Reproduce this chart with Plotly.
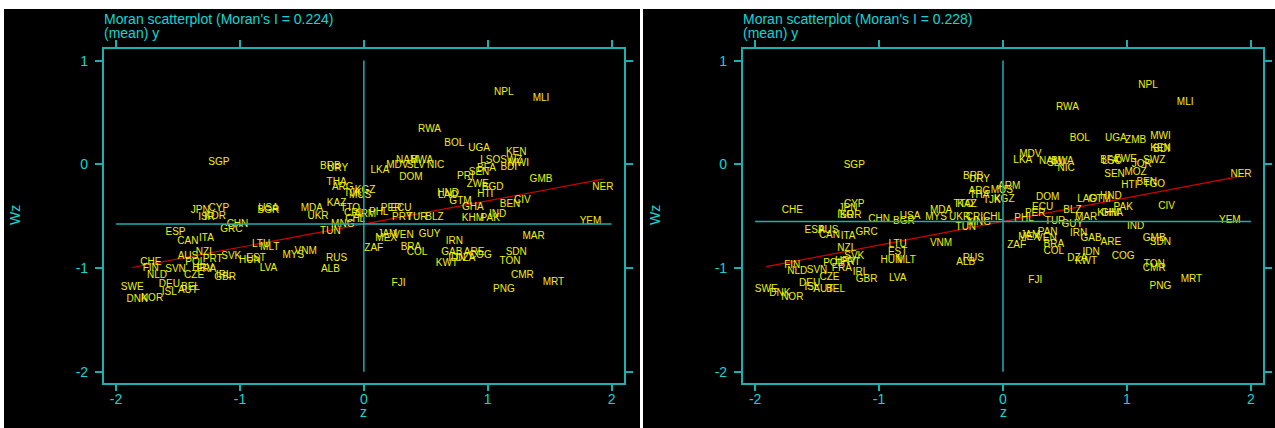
import plotly.graph_objects as go

# ---------------- data ----------------
left_codes = ["SGP","BRB","URY","THA","ARG","KGZ","MUS","TJK","JPN","CYP","ISR","KOR","USA","BGR",
              "MDA","UKR","KAZ","TTO","CRI","ARM","CHL","PHL","PER","ECU","PRY","TUR","BLZ","MNG","TUN",
              "NPL","MLI","RWA","BOL","UGA","KEN","LSO","SWZ","MWI","BFA","BDI","NAM","BWA","MDV","SLV",
              "NIC","LKA","DOM","PRI","SEN","ZWE","BGD","GMB","NER","HND","LAO","HTI","GTM","CIV","BEN",
              "GHA","IND","KHM","PAK","YEM",
              "MAR","JAM","MEX","VEN","GUY","IRN","ZAF","BRA","COL","GAB","ARE","COG","IDN","DZA","KWT",
              "SDN","TON","CMR","MRT","FJI","PNG",
              "ESP","CAN","ITA","CHN","GRC","LTU","MLT","VNM","MYS","RUS","ALB","AUS","NZL","PRT","POL",
              "FRA","HRV","IRL","GBR","SVK","EST","HUN","LVA","CHE","FIN","SVN","NLD","CZE","DEU","BEL",
              "ISL","AUT","SWE","DNK","NOR"]
left_z = [-1.17,-0.27,-0.21,-0.22,-0.17,0.01,-0.03,-0.09,-1.32,-1.17,-1.27,-1.20,-0.77,-0.77,
          -0.42,-0.37,-0.22,-0.11,-0.09,0.01,-0.07,0.12,0.22,0.30,0.31,0.43,0.57,-0.17,-0.27,
          1.13,1.43,0.53,0.73,0.93,1.23,1.02,1.19,1.25,0.99,1.17,0.35,0.47,0.27,0.42,
          0.58,0.13,0.38,0.82,0.93,0.92,1.04,1.43,1.93,0.68,0.68,0.98,0.78,1.28,1.18,
          0.88,1.08,0.88,1.02,1.83,
          1.37,0.19,0.18,0.32,0.53,0.73,0.08,0.38,0.43,0.71,0.89,0.94,0.75,0.82,0.67,
          1.23,1.18,1.28,1.53,0.28,1.13,
          -1.52,-1.42,-1.27,-1.02,-1.07,-0.83,-0.76,-0.47,-0.57,-0.22,-0.27,-1.42,-1.28,-1.22,-1.36,
          -1.27,-1.30,-1.13,-1.12,-1.07,-0.87,-0.92,-0.77,-1.72,-1.72,-1.52,-1.67,-1.37,-1.57,-1.40,
          -1.57,-1.42,-1.87,-1.83,-1.71]
left_wz = [0.02,-0.02,-0.04,-0.18,-0.22,-0.25,-0.30,-0.28,-0.45,-0.43,-0.51,-0.50,-0.43,-0.45,
           -0.43,-0.50,-0.38,-0.43,-0.47,-0.48,-0.53,-0.46,-0.43,-0.43,-0.51,-0.51,-0.51,-0.58,-0.65,
           0.69,0.63,0.34,0.20,0.15,0.11,0.04,0.04,0.01,-0.04,-0.03,0.04,0.04,-0.01,-0.01,
           -0.01,-0.06,-0.13,-0.12,-0.08,-0.19,-0.22,-0.15,-0.22,-0.28,-0.30,-0.29,-0.36,-0.35,-0.39,
           -0.42,-0.48,-0.52,-0.52,-0.55,
           -0.70,-0.68,-0.72,-0.69,-0.68,-0.74,-0.81,-0.80,-0.85,-0.85,-0.85,-0.88,-0.91,-0.91,-0.96,
           -0.85,-0.94,-1.07,-1.14,-1.15,-1.21,
           -0.66,-0.74,-0.72,-0.58,-0.63,-0.77,-0.80,-0.84,-0.88,-0.91,-1.01,-0.89,-0.85,-0.92,-0.95,
           -1.01,-1.00,-1.07,-1.09,-0.89,-0.91,-0.93,-1.00,-0.95,-1.00,-1.01,-1.07,-1.07,-1.16,-1.19,
           -1.24,-1.22,-1.19,-1.30,-1.29]

right_codes = ["SGP","BRB","URY","ARG","THA","MUS","ARM","TJK","KGZ","KAZ","TTO","CHE","CYP","JPN",
               "ISR","KOR","CHN","USA","BGR","MYS","MDA","UKR","CRI","CHL","MNG","TUN","ESP","AUS",
               "CAN","ITA","GRC",
               "NPL","MLI","RWA","BOL","UGA","ZMB","MWI","KEN","BDI","MDV","LKA","NAM","BWA","SLV",
               "NIC","BFA","LSO","ZWE","SWZ","JOR","SEN","MOZ","HTI","BEN","TGO","NER","DOM","LAO",
               "GTM","HND","PAK","KHM","GHA","CIV","ECU","PER","BLZ","MAR","PHL","TUR","GUY","YEM",
               "IND","PAN","JAM","MEX","VEN","IRN","GAB","ARE","ZAF","BRA","COL","IDN","DZA","KWT",
               "COG","GMB","SDN","TON","CMR","MRT","FJI","PNG",
               "NZL","LTU","EST","VNM","HUN","MLT","RUS","ALB","SVK","POL","PRT","HRV","FRA","FIN",
               "NLD","SVN","IRL","CZE","GBR","LVA","DEU","ISL","AUT","BEL","SWE","DNK","NOR"]
right_z = [-1.20,-0.24,-0.19,-0.19,-0.19,-0.01,0.05,-0.09,0.01,-0.29,-0.32,-1.70,-1.20,-1.25,
           -1.27,-1.23,-1.00,-0.75,-0.80,-0.54,-0.50,-0.35,-0.23,-0.08,-0.19,-0.30,-1.52,-1.41,
           -1.40,-1.25,-1.10,
           1.17,1.47,0.52,0.62,0.91,1.07,1.27,1.27,1.28,0.22,0.16,0.38,0.48,0.43,
           0.51,0.86,0.88,0.99,1.22,1.12,0.90,1.07,1.02,1.16,1.22,1.92,0.36,0.68,
           0.78,0.87,0.97,0.85,0.88,1.32,0.32,0.26,0.56,0.67,0.17,0.42,0.56,1.83,
           1.07,0.36,0.22,0.21,0.35,0.61,0.71,0.87,0.11,0.41,0.41,0.71,0.60,0.67,
           0.97,1.22,1.27,1.22,1.22,1.52,0.26,1.27,
           -1.26,-0.85,-0.85,-0.50,-0.90,-0.78,-0.24,-0.30,-1.20,-1.37,-1.23,-1.27,-1.30,-1.70,
           -1.66,-1.50,-1.15,-1.40,-1.10,-0.85,-1.56,-1.54,-1.45,-1.35,-1.91,-1.80,-1.70]
right_wz = [-0.01,-0.12,-0.15,-0.26,-0.30,-0.25,-0.21,-0.35,-0.34,-0.39,-0.39,-0.45,-0.39,-0.43,
            -0.49,-0.49,-0.53,-0.50,-0.55,-0.51,-0.45,-0.51,-0.51,-0.51,-0.56,-0.61,-0.64,-0.64,
            -0.69,-0.70,-0.66,
            0.76,0.60,0.55,0.25,0.25,0.23,0.27,0.15,0.14,0.09,0.04,0.03,0.03,0.01,
            -0.04,0.04,0.03,0.05,0.04,0.00,-0.10,-0.08,-0.20,-0.18,-0.19,-0.10,-0.32,-0.34,
            -0.34,-0.31,-0.42,-0.47,-0.47,-0.41,-0.42,-0.47,-0.45,-0.51,-0.52,-0.55,-0.58,-0.54,
            -0.60,-0.66,-0.69,-0.71,-0.72,-0.67,-0.72,-0.75,-0.78,-0.77,-0.84,-0.85,-0.91,-0.94,
            -0.89,-0.72,-0.75,-0.97,-1.00,-1.11,-1.12,-1.18,
            -0.81,-0.77,-0.85,-0.76,-0.93,-0.93,-0.91,-0.95,-0.89,-0.96,-0.95,-0.94,-1.00,-0.98,
            -1.03,-1.02,-1.04,-1.09,-1.11,-1.10,-1.15,-1.19,-1.21,-1.21,-1.21,-1.25,-1.28]

moran_I = [0.224, 0.228]
mean_wz = [-0.576, -0.551]
titles = ["Moran scatterplot (Moran's I = 0.224)", "Moran scatterplot (Moran's I = 0.228)"]
subtitle = "(mean) y"
x_ticks = [-2, -1, 0, 1, 2]
x_ticktext = ["-2", "-1", "0", "1", "2"]
y_ticks = [-2, -1, 0, 1]
y_ticktext = ["-2", "-1", "0", "1"]

# ---------------- styling ----------------
W, H = 1275, 428
CYAN_TXT = "#12d6d6"
CYAN_LINE = "#1ab0b0"
YELLOW = "#f0f00a"
RED = "#d40000"
FONT = "Liberation Sans, Arial, Helvetica, sans-serif"

def px2x(p):
    return p / W

def py2y(p):
    return 1 - p / H

panels = [
    dict(codes=left_codes, z=left_z, wz=left_wz, box=(103.7, 624.0), panel=(4, 640), zero=363.3, wz_x=15),
    dict(codes=right_codes, z=right_z, wz=right_wz, box=(742.7, 1263.3), panel=(643, 1275), zero=1003.3, wz_x=655),
]
box_top, box_bot = 49.0, 382.7

fig = go.Figure()
shapes = []
annotations = []

for i, p in enumerate(panels):
    xa = "x" if i == 0 else "x2"
    ya = "y" if i == 0 else "y2"
    shapes.append(dict(type="rect", xref="paper", yref="paper", layer="below",
                       x0=px2x(p["panel"][0]), x1=px2x(p["panel"][1]),
                       y0=0, y1=py2y(9), fillcolor="black", line=dict(width=0)))
    shapes.append(dict(type="line", xref=xa, yref=ya, x0=0, x1=0, y0=min(y_ticks), y1=max(y_ticks),
                       line=dict(color=CYAN_LINE, width=1.5)))
    shapes.append(dict(type="line", xref=xa, yref=ya, x0=min(x_ticks), x1=max(x_ticks),
                       y0=mean_wz[i], y1=mean_wz[i], line=dict(color=CYAN_LINE, width=1.5)))
    zmin, zmax = min(p["z"]), max(p["z"])
    fig.add_trace(go.Scatter(x=[zmin, zmax],
                             y=[mean_wz[i] + moran_I[i] * zmin, mean_wz[i] + moran_I[i] * zmax],
                             mode="lines", line=dict(color=RED, width=1.2),
                             xaxis=xa, yaxis=ya, hoverinfo="skip", showlegend=False))
    fig.add_trace(go.Scatter(x=p["z"], y=p["wz"], text=p["codes"], mode="text",
                             textposition="middle center",
                             textfont=dict(color=YELLOW, size=10, family=FONT),
                             xaxis=xa, yaxis=ya, cliponaxis=False, showlegend=False))
    bx0 = p["box"][0]
    annotations.append(dict(text=titles[i], xref="paper", yref="paper",
                            x=px2x(bx0 - 2), y=py2y(9), xanchor="left", yanchor="top",
                            showarrow=False, font=dict(color=CYAN_TXT, size=14, family=FONT)))
    annotations.append(dict(text=subtitle, xref="paper", yref="paper",
                            x=px2x(bx0 - 2), y=py2y(23), xanchor="left", yanchor="top",
                            showarrow=False, font=dict(color=CYAN_TXT, size=14, family=FONT)))
    annotations.append(dict(text="z", xref="paper", yref="paper",
                            x=px2x(p["zero"]), y=py2y(412), xanchor="center", yanchor="middle",
                            showarrow=False, font=dict(color=CYAN_TXT, size=14, family=FONT)))
    annotations.append(dict(text="Wz", xref="paper", yref="paper", textangle=-90,
                            x=px2x(p["wz_x"]), y=py2y(215), xanchor="center", yanchor="middle",
                            showarrow=False, font=dict(color=CYAN_TXT, size=14, family=FONT)))

axis_common = dict(showgrid=False, zeroline=False, showline=True, linecolor=CYAN_LINE, linewidth=1.5,
                   mirror="ticks", ticks="outside", ticklen=7, tickwidth=1.5, tickcolor=CYAN_LINE,
                   tickfont=dict(color=CYAN_TXT, size=14, family=FONT))

fig.update_layout(
    width=W, height=H, margin=dict(l=0, r=0, t=0, b=0),
    paper_bgcolor="white", plot_bgcolor="black",
    shapes=shapes, annotations=annotations,
    xaxis=dict(domain=[px2x(103.7), px2x(624.0)], range=[-2.1, 2.1], tickvals=x_ticks, ticktext=x_ticktext,
               anchor="y", ticklabelstandoff=-4, **axis_common),
    yaxis=dict(domain=[py2y(box_bot), py2y(box_top)], range=[-2.106, 1.112], tickvals=y_ticks, ticktext=y_ticktext,
               anchor="x", ticklabelstandoff=4, **axis_common),
    xaxis2=dict(domain=[px2x(742.7), px2x(1263.3)], range=[-2.1, 2.1], tickvals=x_ticks, ticktext=x_ticktext,
                anchor="y2", ticklabelstandoff=-4, **axis_common),
    yaxis2=dict(domain=[py2y(box_bot), py2y(box_top)], range=[-2.106, 1.112], tickvals=y_ticks, ticktext=y_ticktext,
                anchor="x2", ticklabelstandoff=4, **axis_common),
)

fig.write_html("out.html", config={"displayModeBar": False},
               post_script="document.body.style.margin='0px';document.body.style.padding='0px';")
